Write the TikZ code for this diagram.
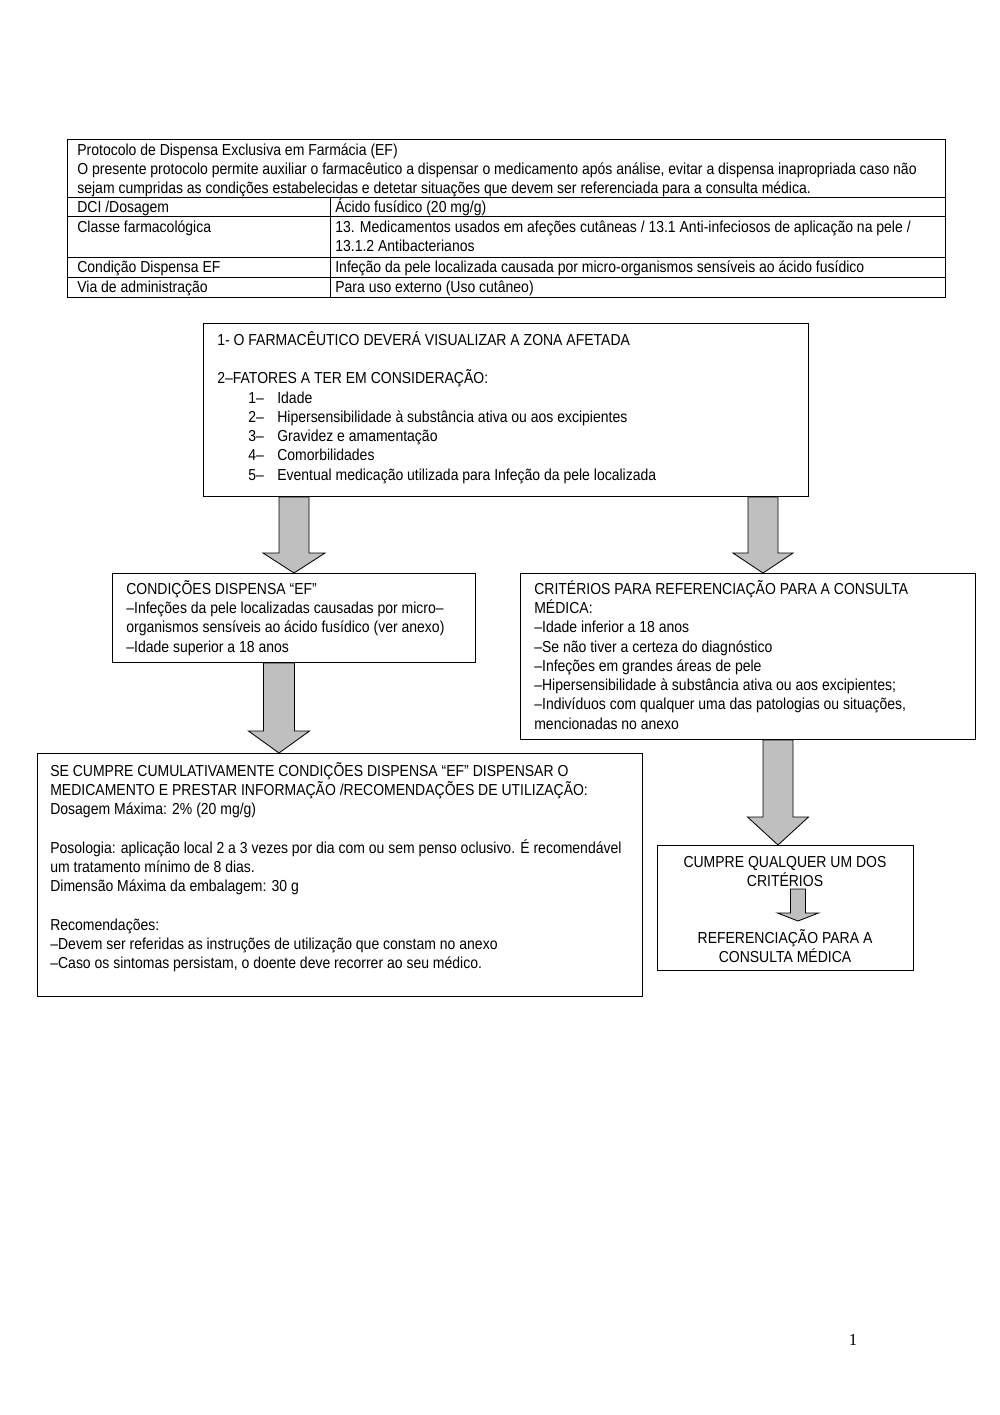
\documentclass[tikz,border=0pt]{standalone}
\usepackage{fontspec}
\setmainfont{Liberation Sans}[FakeStretch=0.88]
\newfontfamily\numfont{Liberation Serif}
\usetikzlibrary{calc}

\newlength\pix
\setlength\pix{0.021cm}
\newcommand{\ini}{\rule{0pt}{10pt}}

\tikzset{
  caixa/.style={draw, line width=0.6pt, inner sep=0pt, anchor=north west},
  texto/.style={inner sep=0pt, anchor=north west, yshift=10pt, align=left,
    font=\fontsize{9.5}{11.5}\selectfont},
  centrado/.style={texto, anchor=north, align=center},
  seta/.style={draw, line width=0.5pt, fill=black!25},
}
% block arrow: top, tip, half shaft, half head, head length (in px)
\newcommand{\setabloco}[5]{%
  \draw[seta] let \p1=(#1), \p2=(#2) in
    (\x2-#3*\pix,\y1) -- (\x2+#3*\pix,\y1) -- (\x2+#3*\pix,\y2+#5*\pix) -- (\x2+#4*\pix,\y2+#5*\pix)
    -- (\x2,\y2) -- (\x2-#4*\pix,\y2+#5*\pix) -- (\x2-#3*\pix,\y2+#5*\pix) -- cycle;}
\newcommand{\num}[1]{\hspace*{31\pix}\makebox[29\pix][l]{#1}}

\begin{document}
\begin{tikzpicture}[x=\pix, y=-\pix]
\useasboundingbox (0,0) rectangle (1000,1415);

% tabela
\node[caixa, minimum width=878*\pix, minimum height=158*\pix] (tabela) at (67,139) {};
\draw[line width=0.6pt] (67,197) -- (945,197) (67,216) -- (945,216) (67,257) -- (945,257) (67,277) -- (945,277);
\draw[line width=0.6pt] (330,197) -- (330,297);
\node[texto, font=\fontsize{9.5}{11.5}\selectfont] (protocolo) at (77,155) {\ini Protocolo de Dispensa Exclusiva em Farmácia (EF)\\
O presente protocolo permite auxiliar o farmacêutico a dispensar o medicamento após análise, evitar a dispensa inapropriada caso não\\
sejam cumpridas as condições estabelecidas e detetar situações que devem ser referenciada para a consulta médica.};
\node[texto] (dci) at (77,212) {\ini DCI /Dosagem};
\node[texto] (dcival) at (335,212) {\ini Ácido fusídico  (20 mg/g)};
\node[texto] (classe) at (77,232) {\ini Classe farmacológica};
\node[texto] (classeval) at (335,232) {\ini 13. Medicamentos usados em afeções cutâneas / 13.1 Anti-infeciosos de aplicação na pele /\\13.1.2 Antibacterianos};
\node[texto] (condicao) at (77,272) {\ini Condição Dispensa EF};
\node[texto] (condicaoval) at (335,272) {\ini Infeção da pele localizada causada por micro-organismos sensíveis ao ácido fusídico};
\node[texto] (via) at (77,292) {\ini Via de administração};
\node[texto] (viaval) at (335,292) {\ini Para uso externo (Uso cutâneo)};

% caixas
\node[caixa, minimum width=605*\pix, minimum height=173*\pix] (fatores) at (203,323) {};
\node[texto] (fatorestxt) at (217,345) {\ini 1- O FARMACÊUTICO DEVERÁ VISUALIZAR A ZONA AFETADA\\[11.5pt]
2–FATORES A TER EM CONSIDERAÇÃO:\\
\num{1–}Idade\\
\num{2–}Hipersensibilidade à substância ativa ou aos excipientes\\
\num{3–}Gravidez e amamentação\\
\num{4–}Comorbilidades\\
\num{5–}Eventual medicação utilizada para Infeção da pele localizada};

\node[caixa, minimum width=363*\pix, minimum height=89*\pix] (condicoes) at (112,573) {};
\node[texto] (condicoestxt) at (126,594) {\ini CONDIÇÕES DISPENSA “EF”\\
–Infeções da pele localizadas causadas por micro–\\
organismos sensíveis ao ácido fusídico (ver anexo)\\
–Idade superior a 18 anos};

\node[caixa, minimum width=455*\pix, minimum height=166*\pix] (criterios) at (520,573) {};
\node[texto] (criteriostxt) at (534,594) {\ini CRITÉRIOS PARA REFERENCIAÇÃO PARA A CONSULTA\\
MÉDICA:\\
–Idade inferior a 18 anos\\
–Se não tiver a certeza do diagnóstico\\
–Infeções em grandes áreas de pele\\
–Hipersensibilidade à substância ativa ou aos excipientes;\\
–Indivíduos com qualquer uma das patologias ou situações,\\
mencionadas no anexo};

\node[caixa, minimum width=605*\pix, minimum height=243*\pix] (dispensa) at (37,753) {};
\node[texto] (dispensatxt) at (50,776) {\ini SE CUMPRE CUMULATIVAMENTE CONDIÇÕES DISPENSA “EF” DISPENSAR O\\
MEDICAMENTO E PRESTAR INFORMAÇÃO /RECOMENDAÇÕES DE UTILIZAÇÃO:\\
Dosagem Máxima: 2\% (20 mg/g)\\[11.5pt]
Posologia: aplicação local 2 a 3 vezes por dia com ou sem penso oclusivo. É recomendável\\
um tratamento mínimo de 8 dias.\\
Dimensão Máxima da embalagem: 30 g\\[11.5pt]
Recomendações:\\
–Devem ser referidas as instruções de utilização que constam no anexo\\
–Caso os sintomas persistam, o doente deve recorrer ao seu médico.};

\node[caixa, minimum width=256*\pix, minimum height=125*\pix] (cumpre) at (657,845) {};
\node[centrado] (cumpretxt) at (785,867) {\ini CUMPRE QUALQUER UM DOS\\CRITÉRIOS};
\node[centrado] (referencia) at (785,943) {\ini REFERENCIAÇÃO PARA A\\CONSULTA MÉDICA};

% setas
\coordinate (s1) at ($(fatores.south west)+(91,0)$);
\coordinate (s2) at ($(fatores.south west)+(560,0)$);
\coordinate (s3) at ($(condicoes.south west)+(167,0)$);
\coordinate (s4) at ($(criterios.south west)+(258,0)$);
\coordinate (s5) at (798,889);
\coordinate (t5) at (798,921);
\setabloco{s1}{s1 |- condicoes.north}{15}{31}{20}
\setabloco{s2}{s2 |- criterios.north}{15}{30}{20}
\setabloco{s3}{s3 |- dispensa.north}{15.5}{30.5}{22}
\setabloco{s4}{s4 |- cumpre.north}{15}{30.5}{28}
\setabloco{s5}{t5}{7.5}{20.5}{8}

\node[font=\numfont\fontsize{10}{12}\selectfont] (pagina) at (853,1340) {1};
\end{tikzpicture}
\end{document}
